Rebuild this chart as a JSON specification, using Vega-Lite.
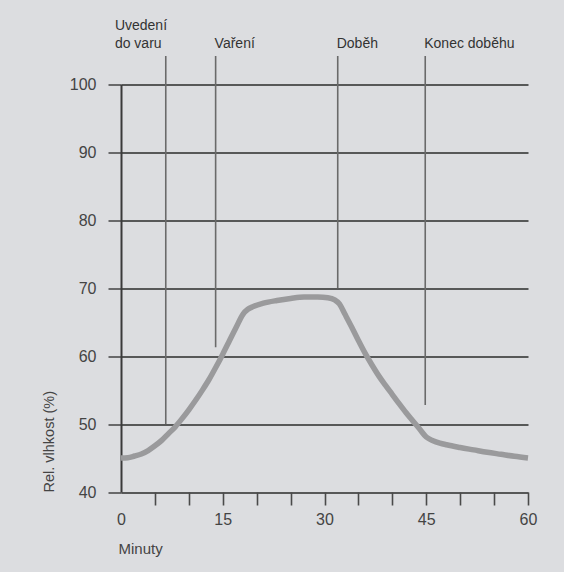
{
  "$schema": "https://vega.github.io/schema/vega-lite/v6.json",
  "width": 407,
  "height": 407.5,
  "autosize": {"type": "none"},
  "padding": {"left": 121, "top": 84.5, "right": 36, "bottom": 80},
  "background": "#dcdde0",
  "config": {"view": {"stroke": null}, "font": "Liberation Sans"},
  "datasets": {
    "curve": [
      {"min": 0, "rh": 45.0}, {"min": 1, "rh": 45.05}, {"min": 2, "rh": 45.3}, {"min": 3, "rh": 45.6},
      {"min": 4, "rh": 46.1}, {"min": 5, "rh": 46.8}, {"min": 6, "rh": 47.6}, {"min": 7, "rh": 48.6},
      {"min": 8, "rh": 49.6}, {"min": 9, "rh": 50.8}, {"min": 10, "rh": 52.1}, {"min": 11, "rh": 53.5},
      {"min": 12, "rh": 55.0}, {"min": 13, "rh": 56.6}, {"min": 14, "rh": 58.4}, {"min": 15, "rh": 60.3},
      {"min": 16, "rh": 62.3}, {"min": 17, "rh": 64.3}, {"min": 18, "rh": 66.2}, {"min": 18.7, "rh": 66.9},
      {"min": 19.5, "rh": 67.3}, {"min": 21, "rh": 67.8}, {"min": 23, "rh": 68.2}, {"min": 25, "rh": 68.5},
      {"min": 27, "rh": 68.7}, {"min": 29, "rh": 68.7}, {"min": 30.5, "rh": 68.6}, {"min": 31.5, "rh": 68.3},
      {"min": 32.2, "rh": 67.7}, {"min": 33, "rh": 66.2}, {"min": 34, "rh": 64.3}, {"min": 35, "rh": 62.3},
      {"min": 36, "rh": 60.4}, {"min": 37, "rh": 58.7}, {"min": 38, "rh": 57.1}, {"min": 39, "rh": 55.7},
      {"min": 40, "rh": 54.35}, {"min": 41, "rh": 53.0}, {"min": 42, "rh": 51.7}, {"min": 43, "rh": 50.5},
      {"min": 44, "rh": 49.3}, {"min": 45, "rh": 48.1}, {"min": 46, "rh": 47.55}, {"min": 47, "rh": 47.2},
      {"min": 48, "rh": 46.95}, {"min": 50, "rh": 46.55}, {"min": 52, "rh": 46.2}, {"min": 54, "rh": 45.85},
      {"min": 56, "rh": 45.55}, {"min": 58, "rh": 45.25}, {"min": 60, "rh": 45.0}
    ],
    "phases": [
      {"phase": "Uvedení do varu", "min": 6.6, "rh": 50, "top": 104.2},
      {"phase": "Vaření", "min": 13.95, "rh": 61.3, "top": 104.2},
      {"phase": "Doběh", "min": 31.95, "rh": 70, "top": 104.2},
      {"phase": "Konec doběhu", "min": 44.85, "rh": 52.8, "top": 104.2}
    ],
    "labels": [
      {"text": "Uvedení", "min": -0.9, "rh": 108.0},
      {"text": "do varu", "min": -0.9, "rh": 105.4},
      {"text": "Vaření", "min": 13.8, "rh": 105.4},
      {"text": "Doběh", "min": 31.8, "rh": 105.4},
      {"text": "Konec doběhu", "min": 44.7, "rh": 105.4}
    ]
  },
  "encoding": {
    "x": {"field": "min", "type": "quantitative", "scale": {"domain": [0, 60], "nice": false},
      "axis": {
        "values": [0, 5, 10, 15, 20, 25, 30, 35, 40, 45, 50, 55, 60],
        "grid": false, "domain": false,
        "tickSize": 13, "tickColor": "#4a4a4a", "tickWidth": 1.6,
        "tickOpacity": {"condition": {"test": "datum.value === 0", "value": 0}, "value": 1},
        "labelExpr": "datum.value % 15 === 0 ? datum.label : ''",
        "labelOverlap": false, "labelFlush": false,
        "labelFont": "Liberation Sans", "labelFontSize": 16, "labelColor": "#444",
        "labelPadding": 6,
        "title": "Minuty", "titleFont": "Liberation Sans", "titleFontSize": 15,
        "titleFontWeight": "normal", "titleColor": "#444",
        "titleAnchor": "start", "titleAlign": "left", "titleBaseline": "alphabetic",
        "titleX": -3, "titleY": 61
      }
    },
    "y": {"field": "rh", "type": "quantitative", "scale": {"domain": [40, 100], "nice": false},
      "axis": {
        "values": [40, 50, 60, 70, 80, 90, 100],
        "grid": true, "gridColor": "#2b2b2b", "gridWidth": 1.3, "gridOpacity": 1,
        "domain": true, "domainColor": "#3a3a3a", "domainWidth": 2,
        "tickSize": 13, "tickColor": "#2b2b2b", "tickWidth": 1.3,
        "labelFont": "Liberation Sans", "labelFontSize": 16, "labelColor": "#444",
        "labelPadding": 12,
        "title": "Rel. vlhkost (%)", "titleFont": "Liberation Sans", "titleFontSize": 14.5,
        "titleFontWeight": "normal", "titleColor": "#444",
        "titleAngle": -90, "titleAlign": "left", "titleBaseline": "middle",
        "titleX": -72, "titleY": 407.5
      }
    }
  },
  "layer": [
    {
      "data": {"name": "phases"},
      "mark": {"type": "rule", "color": "#6a6a6a", "strokeWidth": 1.6},
      "encoding": {
        "y2": {"field": "top"}
      }
    },
    {
      "data": {"name": "curve"},
      "mark": {"type": "line", "color": "#9a9a9c", "strokeWidth": 5.5, "interpolate": "monotone", "strokeCap": "butt"},
      "encoding": {}
    },
    {
      "data": {"name": "labels"},
      "mark": {"type": "text", "align": "left", "baseline": "alphabetic", "font": "Liberation Sans", "fontSize": 14, "color": "#333"},
      "encoding": {
        "text": {"field": "text"}
      }
    }
  ]
}
